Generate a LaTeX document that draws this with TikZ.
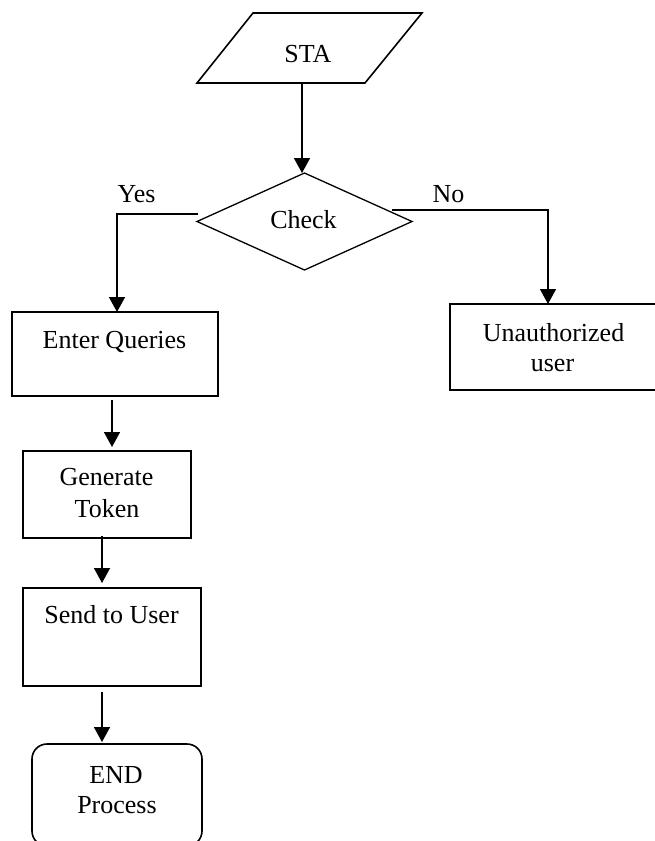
\documentclass[tikz,border=0pt]{standalone}
\usepackage{fontspec}
\setmainfont{Liberation Serif}
\usetikzlibrary{arrows.meta,shapes.geometric}
\begin{document}
\begin{tikzpicture}[x=1pt,y=-1pt,
  line width=1.6pt,
  box/.style={draw, rectangle, line width=1.8pt, inner sep=0pt, outer sep=0pt},
  endbox/.style={box, line width=1.6pt, rounded corners=15pt},
  decision/.style={draw, diamond, line width=1.3pt, inner sep=0pt, outer sep=0pt},
  txt/.style={inner sep=0pt, anchor=base, font=\fontsize{26pt}{31pt}\selectfont},
  arr/.style={line width=1.6pt, -{Triangle[length=15pt,width=16pt]}}]
\useasboundingbox (0,0) rectangle (655,841);

% start symbol (parallelogram)
\coordinate (staTL) at (253,13);
\coordinate (staTR) at (422,13);
\coordinate (staBR) at (365,83);
\coordinate (staBL) at (197,83);
\draw[line join=miter] (staTL) -- (staTR) -- (staBR) -- (staBL) -- cycle;
\node[txt] (staT) at (308,62) {STA};
\coordinate (staB) at (302,83);

% decision
\node[decision, minimum width=215pt, minimum height=97pt] (check) at (304.5,221.5) {};
\node[txt] (checkT) at (303.5,228) {Check};

% process boxes
\node[box, minimum width=206pt, minimum height=84pt] (enter) at (115,354) {};
\node[txt] (enterT) at (114.5,348) {Enter Queries};

\node[box, minimum width=208pt, minimum height=86pt] (unauth) at (554,347) {};
\node[txt] (unauthT1) at (553.5,341) {Unauthorized};
\node[txt] (unauthT2) at (552.5,371) {user};

\node[box, minimum width=168pt, minimum height=87pt] (gen) at (107,494.5) {};
\node[txt] (genT1) at (106.5,485) {Generate};
\node[txt] (genT2) at (107,517) {Token};

\node[box, minimum width=178pt, minimum height=98pt] (send) at (112,637) {};
\node[txt] (sendT) at (111.5,623) {Send to User};

\node[endbox, minimum width=170pt, minimum height=102pt] (endp) at (117,795) {};
\node[txt] (endT1) at (116,783) {END};
\node[txt] (endT2) at (117,813) {Process};

% branch labels
\node[txt] (yesT) at (136.5,202) {Yes};
\node[txt] (noT) at (448.5,202) {No};

% connectors
\coordinate (yesA) at (198,214);
\coordinate (noA) at (392,210);
\draw[arr] (staB) -- (staB |- check.north);
\draw[arr] (yesA) -| ([xshift=2pt]enter.north);
\draw[arr] (noA) -| ([xshift=-6pt]unauth.north);
\draw[arr] ([xshift=-3pt,yshift=-4pt]enter.south) -- ([xshift=5pt,yshift=4pt]gen.north);
\draw[arr] ([xshift=-5pt,yshift=2pt]gen.south) -- ([xshift=-10pt,yshift=5pt]send.north);
\draw[arr] ([xshift=-10pt,yshift=-6pt]send.south) -- ([xshift=-15pt,yshift=2pt]endp.north);
\end{tikzpicture}
\end{document}
